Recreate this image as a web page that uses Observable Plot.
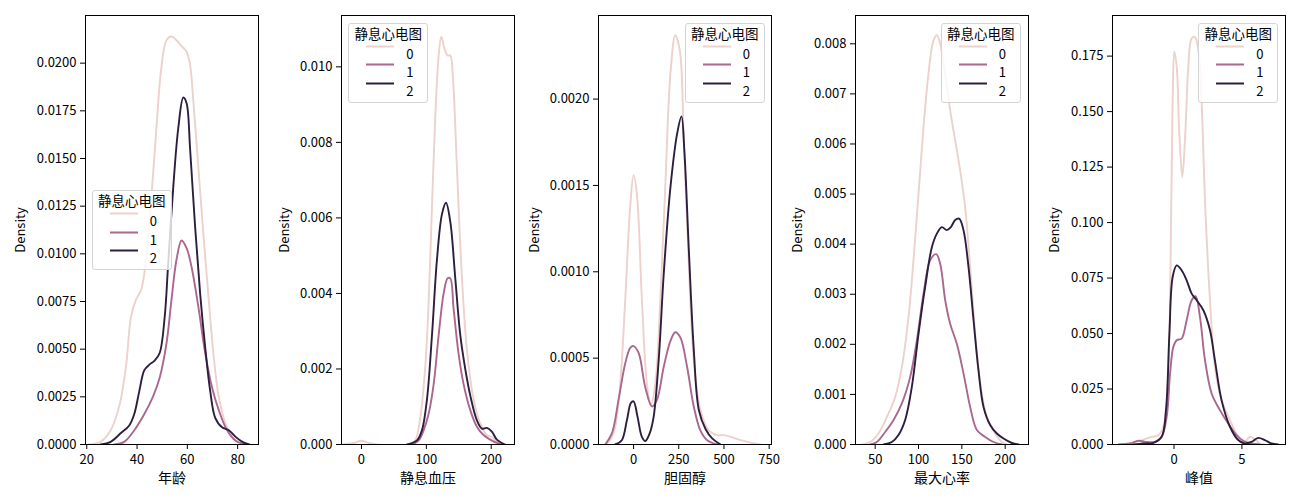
<!DOCTYPE html>
<html><head><meta charset="utf-8">
<script src="https://cdn.jsdelivr.net/npm/d3@7"></script>
<script src="https://cdn.jsdelivr.net/npm/@observablehq/plot@0.6"></script>
<style>
body{margin:0;background:#fff;}
#root{position:relative;width:1300px;height:500px;overflow:hidden;font-family:"Noto Sans CJK SC","Noto Sans",sans-serif;}
#root svg{position:absolute;top:0;}
.legend{position:absolute;width:80px;height:80px;border:1px solid #d4d4d4;border-radius:3px;background:rgba(255,255,255,0.8);box-sizing:border-box;font-size:13.5px;color:#000;}
.legend .t{position:absolute;left:0;right:0;top:0px;text-align:center;line-height:18px;}
.legend .e{position:absolute;left:0;height:18px;line-height:18px;font-size:13px;}
.legend .e svg{position:absolute;left:16px;top:8px;}
.legend .e span{position:absolute;left:57px;top:0;}
</style></head><body><div id="root"></div>
<script>
// hue levels (静息心电图) and colours
const levels = ["0", "1", "2"];
const colors = ["#edd1cb", "#aa678f", "#2d1e3e"];
const legendTitle = "静息心电图";

// panel labels
const xLabels = ["年龄", "静息血压", "胆固醇", "最大心率", "峰值"];

// x tick values per panel
const xTicks = [[20, 40, 60, 80], [0, 100, 200], [0, 250, 500, 750], [50, 100, 150, 200], [0, 5]];
// y tick values per panel
const yTicks = [
  [0, 0.0025, 0.005, 0.0075, 0.01, 0.0125, 0.015, 0.0175, 0.02],
  [0, 0.002, 0.004, 0.006, 0.008, 0.010],
  [0, 0.0005, 0.001, 0.0015, 0.002],
  [0, 0.001, 0.002, 0.003, 0.004, 0.005, 0.006, 0.007, 0.008],
  [0, 0.025, 0.05, 0.075, 0.1, 0.125, 0.15, 0.175]
];
const yDecimals = [4, 3, 4, 3, 3];

// 年龄 densities [x, density]
const age0 = [[20.8,0],[25.5,0.00014],[29.5,0.00075],[32.9,0.002],[35.6,0.0041],[37.6,0.0067],[39.6,0.0076],[41.6,0.0081],[43.6,0.0097],[45.6,0.0128],[47.7,0.0166],[49.7,0.0198],[51.7,0.0212],[53.7,0.0214],[55.7,0.0212],[57.7,0.0209],[59.7,0.0206],[61.1,0.0199],[62.4,0.018],[64.4,0.0145],[66.4,0.011],[68.5,0.0076],[70.5,0.0046],[72.5,0.0025],[75.2,0.0011],[77.9,0.0004],[81.2,0.00005],[84.6,0]];
const age1 = [[30.9,0],[34.9,0.00014],[38.9,0.00075],[42.9,0.0016],[46.3,0.0025],[49,0.0035],[51.7,0.0053],[53.7,0.0076],[55.7,0.0097],[57.7,0.0107],[59.7,0.0103],[61.7,0.0093],[64.4,0.0072],[67.1,0.0048],[69.8,0.003],[72.5,0.0018],[75.8,0.00075],[79.2,0.0002],[83.2,0]];
const age2 = [[25.5,0],[29.5,0.00014],[33.6,0.0006],[36.9,0.001],[38.9,0.0016],[40.9,0.0028],[42.9,0.0039],[45,0.0042],[47,0.0044],[49,0.0048],[51,0.0067],[52.3,0.0093],[54.4,0.0135],[56.4,0.0166],[58.4,0.0182],[59.7,0.0179],[61.1,0.0155],[63.1,0.0114],[65.1,0.0079],[67.1,0.0051],[69.1,0.0028],[71.1,0.0014],[73.8,0.0009],[76.5,0.00075],[79.2,0.0004],[81.9,0.00014],[84.6,0]];

// 静息血压 densities
const bp0 = [[-29.7,0],[-11.8,0.00004],[0,0.0001],[11.3,0.00004],[24,0],[75.4,0],[83,0.00011],[90.8,0.00073],[98.5,0.0021],[103.6,0.0038],[108.7,0.0063],[113.8,0.0087],[119,0.0103],[123,0.0108],[127.7,0.0105],[132.8,0.0103],[136.9,0.0103],[141,0.0097],[147.2,0.0073],[154.9,0.0044],[162.6,0.0025],[172.8,0.0012],[183,0.00056],[193.3,0.00025],[201,0.0002],[208.7,0.00007],[219,0]];
const bp1 = [[78,0],[88.2,0.00011],[95.9,0.00038],[103.6,0.00082],[111.3,0.0016],[119,0.0029],[126.7,0.004],[132.8,0.0044],[136.9,0.0044],[142,0.0036],[149.7,0.0024],[157.4,0.0016],[167.7,0.00091],[177.9,0.00047],[188.2,0.00025],[198.5,0.00013],[208.7,0.00004],[216.4,0]];
const bp2 = [[70.3,0],[85.6,0.00011],[93.3,0.00038],[101,0.0012],[108.7,0.0029],[116.4,0.0049],[124.1,0.0061],[130.3,0.0064],[136.9,0.0059],[144.6,0.0044],[152.3,0.0029],[160,0.002],[167.7,0.0013],[177.9,0.00064],[185.6,0.00042],[193.3,0.00044],[201,0.00034],[208.7,0.00013],[221.5,0]];

// 胆固醇 densities
const chol0 = [[-157,0],[-130,0.000025],[-102,0.0001],[-74,0.00035],[-46,0.00084],[-18.5,0.00138],[0,0.00156],[18.5,0.00145],[46,0.00084],[74,0.00035],[96,0.00023],[120,0.00035],[148,0.00084],[176,0.00151],[204,0.00215],[231,0.00237],[256,0.00228],[278,0.00176],[306,0.00103],[333,0.00049],[370,0.0002],[417,0.00008],[463,0.000054],[500,0.000054],[537,0.000044],[593,0.000025],[667,0.000006],[704,0]];
const chol1 = [[-157,0],[-120,0.000064],[-83,0.00026],[-46,0.00047],[-18.5,0.00056],[0,0.00057],[28,0.00053],[65,0.00033],[102,0.00022],[130,0.00026],[167,0.00045],[204,0.0006],[231,0.00065],[259,0.00062],[296,0.00045],[333,0.00022],[370,0.00008],[407,0.000025],[463,0]];
const chol2 = [[-102,0],[-65,0.000025],[-37,0.00014],[-15,0.00024],[0,0.00025],[22,0.00016],[46,0.000044],[65,0.00002],[89,0.000064],[111,0.00016],[139,0.00049],[167,0.00099],[204,0.00149],[241,0.0018],[265,0.0019],[281,0.0017],[306,0.00112],[333,0.00055],[361,0.0002],[398,0.00009],[435,0.000035],[481,0]];

// 最大心率 densities
const hr0 = [[34.6,0],[44.2,0.00005],[53.8,0.00022],[63.5,0.00055],[73.1,0.00095],[80.8,0.00155],[88.5,0.00255],[94.2,0.00368],[100,0.005],[105.8,0.00634],[111.5,0.0074],[117.3,0.00807],[121.2,0.00817],[125,0.008],[130.8,0.0074],[136.5,0.00667],[142.3,0.00607],[148.1,0.00547],[153.8,0.00474],[159.6,0.00354],[165.4,0.00221],[171.2,0.00122],[178.8,0.00055],[188.5,0.00022],[196.2,0.00005],[201.9,0]];
const hr1 = [[44.2,0],[51.9,0.00005],[61.5,0.00025],[71.2,0.00049],[80.8,0.00082],[90.4,0.00135],[98.1,0.00208],[105.8,0.00301],[113.5,0.00368],[120.4,0.0038],[125,0.00361],[130.8,0.00288],[136.5,0.00241],[144.2,0.00201],[151.9,0.00142],[159.6,0.00075],[167.3,0.00029],[176.9,0.00015],[186.5,0.00005],[196.2,0]];
const hr2 = [[59.6,0],[69.2,0.00005],[76.9,0.00019],[84.6,0.00049],[92.3,0.00115],[100,0.00221],[107.7,0.00315],[115.4,0.00394],[121.2,0.00421],[126.9,0.00434],[132.7,0.00428],[137.3,0.00434],[142.3,0.00448],[146.9,0.00451],[151.9,0.00428],[157.7,0.00354],[163.5,0.00248],[169.2,0.00148],[175,0.00075],[182.7,0.00039],[190.4,0.00022],[198.1,0.00012],[207.7,0.00003],[215.4,0]];

// 峰值 densities
const peak0 = [[-4.09,0],[-3.24,0.00045],[-2.38,0.002],[-1.76,0.0032],[-1.15,0.0042],[-0.78,0.008],[-0.54,0.02],[-0.34,0.05],[-0.2,0.11],[-0.1,0.155],[0.02,0.177],[0.2,0.17],[0.39,0.14],[0.61,0.1205],[0.83,0.14],[1.05,0.17],[1.3,0.183],[1.54,0.1836],[1.79,0.1776],[2.03,0.155],[2.28,0.11],[2.65,0.065],[3.01,0.035],[3.5,0.02],[4.12,0.011],[4.73,0.0035],[5.22,0.0012],[5.59,0.0035],[5.96,0.0023],[6.32,0.00045],[6.69,0]];
const peak1 = [[-4.09,0],[-3.24,0.00045],[-2.62,0.0017],[-2.13,0.0012],[-1.4,0.0012],[-0.91,0.0035],[-0.54,0.0125],[-0.29,0.032],[-0.05,0.044],[0.2,0.047],[0.56,0.0477],[0.93,0.056],[1.3,0.065],[1.59,0.0668],[1.91,0.0575],[2.28,0.038],[2.77,0.023],[3.38,0.0155],[3.99,0.0095],[4.61,0.0042],[5.1,0.0017],[5.71,0.00045],[6.32,0]];
const peak2 = [[-2.99,0],[-2.25,0.00045],[-1.52,0.00075],[-0.91,0.0035],[-0.59,0.0155],[-0.34,0.05],[-0.1,0.0755],[0.2,0.0807],[0.56,0.0785],[0.93,0.074],[1.3,0.068],[1.67,0.065],[2.16,0.0605],[2.65,0.0515],[3.01,0.038],[3.5,0.02],[4.12,0.008],[4.73,0.002],[5.22,0.00045],[5.71,0.0012],[6.2,0.003],[6.69,0.002],[7.18,0.00045],[7.67,0]];

const seriesByPanel = [[age0, age1, age2], [bp0, bp1, bp2], [chol0, chol1, chol2], [hr0, hr1, hr2], [peak0, peak1, peak2]];

// layout (pixels)
const xDomains = [[19.5, 88.3], [-30.8, 235.9], [-194, 763], [27.3, 226.9], [-4.53, 8.21]];
const yDomains = [[0, 0.0225], [0, 0.01136], [0, 0.002484], [0, 0.008565], [0, 0.1933]];
const frameLefts = [84.5, 341, 598.3, 855.3, 1112.3];
const yLabelOffsets = [70, 62, 69, 63, 63];
const legendPos = [[91.7, 190], [348.3, 22.7], [684.7, 22.7], [940.7, 22.7], [1198.3, 22.7]];

const root = document.getElementById("root");
const mL = 80, mR = 14, innerW = 173;
const font = '"Noto Sans CJK SC","Noto Sans",sans-serif';

seriesByPanel.forEach((series, p) => {
  const data = series.flatMap((s, i) => s.map(([x, y]) => ({x, y, level: levels[i]})));
  const fmt = d3.format("." + yDecimals[p] + "f");
  const chart = Plot.plot({
    width: mL + innerW + mR,
    height: 500,
    marginLeft: mL,
    marginRight: mR,
    marginTop: 15,
    marginBottom: 56,
    style: {fontFamily: font, fontSize: "13px", color: "#000", background: "transparent", overflow: "visible"},
    x: {domain: xDomains[p]},
    y: {domain: yDomains[p]},
    color: {domain: levels, range: colors},
    marks: [
      Plot.line(data, {x: "x", y: "y", stroke: "level", z: "level", curve: "catmull-rom", strokeWidth: 1.9, clip: true}),
      Plot.frame({stroke: "#000", strokeWidth: 1}),
      Plot.axisX({ticks: xTicks[p], tickSize: 5, tickPadding: 5, label: null, fontSize: 13, tickFormat: d => String(d)}),
      Plot.text([xLabels[p]], {frameAnchor: "bottom", lineAnchor: "middle", dy: 34, fontSize: 14, fill: "#000"}),
      Plot.axisY({ticks: yTicks[p], tickSize: 5, tickPadding: 4, label: "Density", labelAnchor: "center", labelArrow: "none", labelOffset: yLabelOffsets[p], fontSize: 13, tickFormat: fmt})
    ]
  });
  chart.style.left = (frameLefts[p] - mL) + "px";
  root.appendChild(chart);

  const lg = document.createElement("div");
  lg.className = "legend";
  lg.style.left = legendPos[p][0] + "px";
  lg.style.top = legendPos[p][1] + "px";
  let html = `<div class="t">${legendTitle}</div>`;
  levels.forEach((l, i) => {
    const top = 21 + i * 18.7;
    html += `<div class="e" style="top:${top}px;width:78px"><svg width="30" height="3"><line x1="1" x2="29" y1="1.5" y2="1.5" stroke="${colors[i]}" stroke-width="2"/></svg><span>${l}</span></div>`;
  });
  lg.innerHTML = html;
  root.appendChild(lg);
});
</script></body></html>
